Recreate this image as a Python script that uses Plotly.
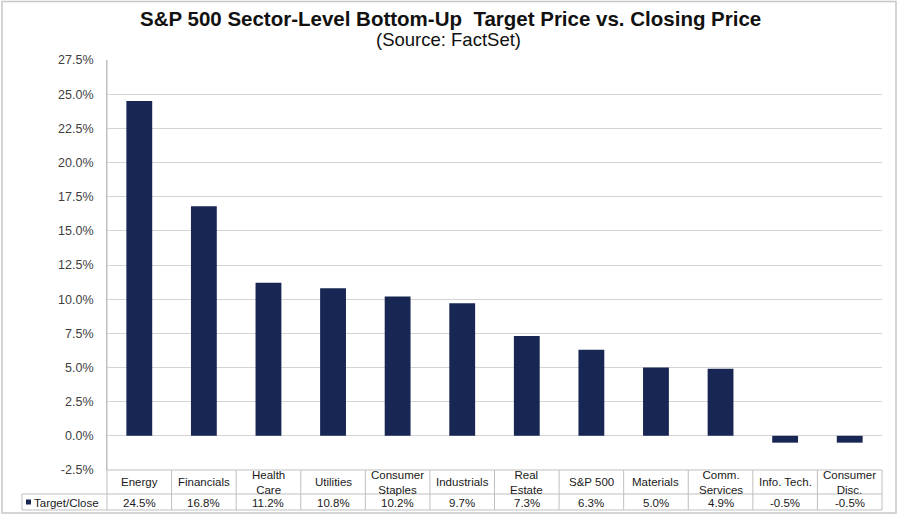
import plotly.graph_objects as go

categories = ["Energy", "Financials", "Health<br>Care", "Utilities", "Consumer<br>Staples",
              "Industrials", "Real<br>Estate", "S&P 500", "Materials", "Comm.<br>Services",
              "Info. Tech.", "Consumer<br>Disc."]
values = [24.5, 16.8, 11.2, 10.8, 10.2, 9.7, 7.3, 6.3, 5.0, 4.9, -0.5, -0.5]
series_name = "Target/Close"
title = "S&P 500 Sector-Level Bottom-Up  Target Price vs. Closing Price"
subtitle = "(Source: FactSet)"
y_ticks = [-2.5, 0.0, 2.5, 5.0, 7.5, 10.0, 12.5, 15.0, 17.5, 20.0, 22.5, 25.0, 27.5]

W, H = 900, 515
L, R, T, B = 107, 18, 60, 45
PW = W - L - R
PH = H - T - B

def px(x):
    return (x - L) / PW

def py(y):
    return (H - B - y) / PH

NAVY = "#172653"
GRID = "#D4D4D4"
FONT = "Liberation Sans, Arial, sans-serif"
TXT = "#1a1a1a"

n = len(categories)
xs = list(range(n))

fig = go.Figure()
fig.add_trace(go.Bar(x=xs, y=values, marker=dict(color=NAVY, line=dict(width=0)),
                     width=0.4, name=series_name, showlegend=False))

shapes = []
annotations = []

row1_top, row1_bot, row2_bot = 470, 494, 510
left_cell = 22
line = dict(color="#BFBFBF", width=1)

shapes.append(dict(type="line", xref="paper", yref="paper", x0=0, x1=1, y0=py(row1_top), y1=py(row1_top), line=line))
shapes.append(dict(type="line", xref="paper", yref="paper", x0=px(left_cell), x1=1, y0=py(row1_bot), y1=py(row1_bot), line=line))
shapes.append(dict(type="line", xref="paper", yref="paper", x0=px(left_cell), x1=1, y0=py(row2_bot), y1=py(row2_bot), line=line))
shapes.append(dict(type="line", xref="paper", yref="paper", x0=px(left_cell), x1=px(left_cell), y0=py(row1_bot), y1=py(row2_bot), line=line))
for k in range(n + 1):
    xk = k / n
    shapes.append(dict(type="line", xref="paper", yref="paper", x0=xk, x1=xk,
                       y0=py(row1_top) if k > 0 else 1, y1=py(row2_bot), line=line))

# outer frame
shapes.append(dict(type="rect", xref="paper", yref="paper", x0=px(2), x1=px(896), y0=py(1.5), y1=py(513),
                   line=dict(color="#C8C8C8", width=1.5)))

# legend marker
shapes.append(dict(type="rect", xref="paper", yref="paper", x0=px(26), x1=px(31), y0=py(499.5), y1=py(504.5),
                   line=dict(width=0), fillcolor=NAVY))

tfont = dict(family=FONT, size=11.5, color=TXT)
for i, (c, v) in enumerate(zip(categories, values)):
    annotations.append(dict(x=i, xref="x", y=py((row1_top + row1_bot) / 2), yref="paper", text=c,
                            showarrow=False, font=tfont, xanchor="center", yanchor="middle"))
    annotations.append(dict(x=i, xref="x", y=py((row1_bot + row2_bot) / 2 + 0.5), yref="paper", text=f"{v:.1f}%",
                            showarrow=False, font=tfont, xanchor="center", yanchor="middle"))
annotations.append(dict(x=px(32), xref="paper", y=py((row1_bot + row2_bot) / 2 + 0.5), yref="paper", text=series_name,
                        showarrow=False, font=tfont, xanchor="left", yanchor="middle"))

annotations.append(dict(x=px(450), xref="paper", xanchor="center", y=py(19), yref="paper", yanchor="middle",
                        text=f"<b>{title}</b>", showarrow=False, font=dict(family=FONT, size=20.5, color="#111")))
annotations.append(dict(x=px(448), xref="paper", xanchor="center", y=py(40), yref="paper", yanchor="middle",
                        text=subtitle, showarrow=False, font=dict(family=FONT, size=18.5, color="#111")))

fig.update_layout(
    width=W, height=H, autosize=False,
    margin=dict(l=L, r=R, t=T, b=B),
    paper_bgcolor="white", plot_bgcolor="white",
    shapes=shapes, annotations=annotations,
    xaxis=dict(range=[-0.5, n - 0.5], showticklabels=False, showgrid=False, zeroline=False,
               showline=False, ticks=""),
    yaxis=dict(range=[-2.5, 27.5], tickvals=y_ticks, ticktext=[f"{t:.1f}%" for t in y_ticks],
               showgrid=True, gridcolor=GRID, gridwidth=1, zeroline=False,
               showline=True, linecolor="#BFBFBF", linewidth=1, ticklabelstandoff=10,
               tickfont=dict(family=FONT, size=12.5, color="#404040"), ticks="", ticklen=0),
    bargap=0.6,
)

fig.write_html("out.html", config={"displayModeBar": False},
               post_script="document.body.style.margin='0px';")
